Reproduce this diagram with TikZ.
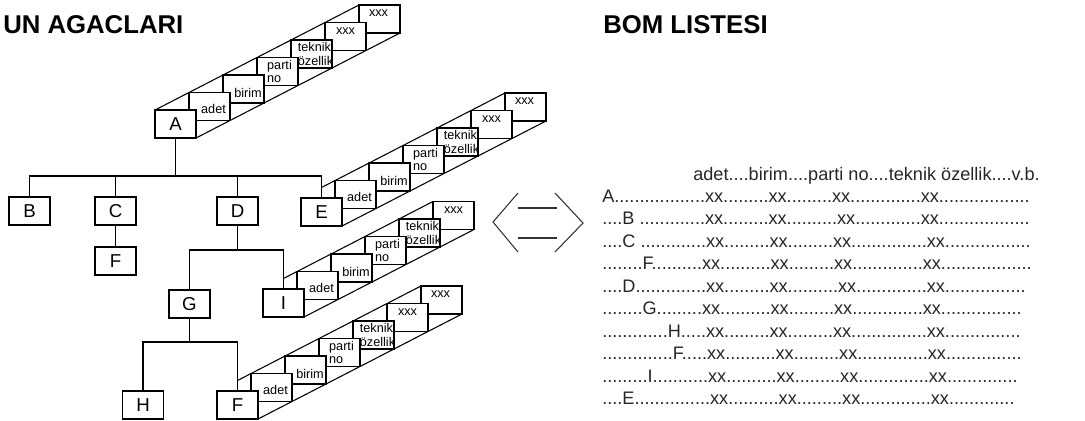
\documentclass[tikz,border=0pt]{standalone}
\usepackage{fontspec}
\setmainfont{Liberation Sans}
\usetikzlibrary{calc,backgrounds}

\newcommand{\dotrun}[1]{\foreach\k in {1,...,#1}{.}}
% field cells stacked up behind a part box: #1 part node, #2 number of cells
\newcommand{\stairs}[2]{%
  \begin{scope}[on background layer]
  \foreach \i/\lbl/\dx/\dy in {6/xxx/-1/-6, 5/xxx/0/-5, 4/{teknik\\özellik}/4/0,
                               3/{parti\\no}/2/0, 2/birim/4.5/4, 1/adet/4/2}{
    \ifnum\i>#2\relax\else
      \node[cell] (#1-c\i) at ($(#1)+(34*\i,-17.5*\i)$) {};
      \node[tag]  (#1-t\i) at ($(#1-c\i)+(\dx,\dy)$) {\lbl};
    \fi
  }
  \end{scope}
  \draw[tree] (#1.south east) -- (#1-c#2.south east);
}

\begin{document}
\begin{tikzpicture}[
  x=0.75pt, y=-0.75pt,
  tree/.style  = {draw=black, line width=0.8pt},
  pbox/.style  = {draw=black, fill=white, line width=0.8pt, minimum width=30.75pt,
                  minimum height=21pt, inner sep=0pt, outer sep=0pt,
                  font=\fontsize{14}{16}\selectfont},
  cell/.style  = {draw=black, fill=white, line width=0.8pt, minimum width=30.75pt,
                  minimum height=21pt, inner sep=0pt, outer sep=0pt},
  tag/.style   = {font=\fontsize{9.5}{9.8}\selectfont, align=left, inner sep=0pt},
  bom/.style   = {font=\fontsize{13.6}{15}\selectfont, text=black!85,
                  anchor=base west, inner sep=0pt},
  title/.style = {font=\fontsize{19.3}{21}\selectfont\bfseries, anchor=base west,
                  inner sep=0pt},
  dbl/.style   = {draw=black!80, line width=0.8pt},
]
\useasboundingbox (0,0) rectangle (1085,421);

% ---- titles -----------------------------------------------------------
\node[title] (treetitle) at (3,33)   {UN AGACLARI};
\node[title] (bomtitle)  at (603,33) {BOM LISTESI};

% ---- product tree -----------------------------------------------------
\node[pbox] (A)  at (175.5,124) {A};
\node[pbox] (B)  at (29.5,211)  {B};
\node[pbox] (C)  at (115.5,211) {C};
\node[pbox] (D)  at (237.5,211) {D};
\node[pbox] (E)  at (321.5,212) {E};
\node[pbox] (F1) at (115.5,261) {F};
\node[pbox] (G)  at (189.5,304) {G};
\node[pbox] (I)  at (283.5,303) {I};
\node[pbox] (H)  at (143,405)   {H};
\node[pbox] (F)  at (237.5,405) {F};

\stairs{A}{6}
\stairs{E}{6}
\stairs{I}{5}
\stairs{F}{6}

\draw[tree] (A.north west) -- (A-c6.north west);
\draw[tree] ($(E.north)+(0,-10.5)$) -- (E-c6.north west);
\draw[tree] ($(I.north)+(0,-10.5)$) -- (I-c5.north west);
\draw[tree] ($(F.north)+(0,-10.5)$) -- (F-c6.north west);

% ---- edges ------------------------------------------------------------
\coordinate (abus) at (175.5,176);
\draw[tree] (A.south) -- (abus);
\draw[tree] (B.north) |- (abus) -| (E.north);
\draw[tree] (C.north) -- (C.north |- abus);
\draw[tree] (D.north) -- (D.north |- abus);
\draw[tree] (C.south) -- (F1.north);

\coordinate (dbus) at (237.5,250);
\draw[tree] (D.south) -- (dbus);
\draw[tree] (G.north) |- (dbus) -| (I.north);

\coordinate (gbus) at (189.5,342);
\draw[tree] (G.south) -- (gbus);
\draw[tree] (H.north) |- (gbus) -| (F.north);

% ---- double arrow -----------------------------------------------------
\draw[dbl] (518,193) -- (493,222) -- (518,252);
\draw[dbl] (555,193) -- (583,223) -- (555,252);
\draw[dbl] (518,208) -- (557,208);
\draw[dbl] (518,238) -- (557,238);

% ---- bom list ---------------------------------------------------------
\node[bom] (head) at (693,180) {adet....birim....parti no....teknik özellik....v.b.};
\node[bom] (rA)  at (602,202)   {A\dotrun{18}xx\dotrun{9}xx\dotrun{9}xx\dotrun{14}xx\dotrun{18}};
\node[bom] (rB)  at (602,224.5) {\dotrun{4}B \dotrun{13}xx\dotrun{9}xx\dotrun{10}xx\dotrun{13}xx\dotrun{18}};
\node[bom] (rC)  at (602,247)   {\dotrun{4}C \dotrun{13}xx\dotrun{9}xx\dotrun{9}xx\dotrun{15}xx\dotrun{17}};
\node[bom] (rF1) at (602,269.5) {\dotrun{8}F\dotrun{10}xx\dotrun{10}xx\dotrun{9}xx\dotrun{14}xx\dotrun{18}};
\node[bom] (rD)  at (602,292)   {\dotrun{4}D\dotrun{14}xx\dotrun{9}xx\dotrun{10}xx\dotrun{14}xx\dotrun{16}};
\node[bom] (rG)  at (602,314.5) {\dotrun{8}G\dotrun{9}xx\dotrun{10}xx\dotrun{9}xx\dotrun{14}xx\dotrun{16}};
\node[bom] (rH)  at (602,337)   {\dotrun{13}H\dotrun{5}xx\dotrun{9}xx\dotrun{9}xx\dotrun{15}xx\dotrun{15}};
\node[bom] (rF)  at (602,359.5) {\dotrun{14}F\dotrun{5}xx\dotrun{10}xx\dotrun{9}xx\dotrun{14}xx\dotrun{15}};
\node[bom] (rI)  at (602,382)   {\dotrun{9}I\dotrun{11}xx\dotrun{10}xx\dotrun{9}xx\dotrun{14}xx\dotrun{14}};
\node[bom] (rE)  at (602,404.5) {\dotrun{4}E\dotrun{15}xx\dotrun{10}xx\dotrun{9}xx\dotrun{14}xx\dotrun{13}};

\end{tikzpicture}
\end{document}
